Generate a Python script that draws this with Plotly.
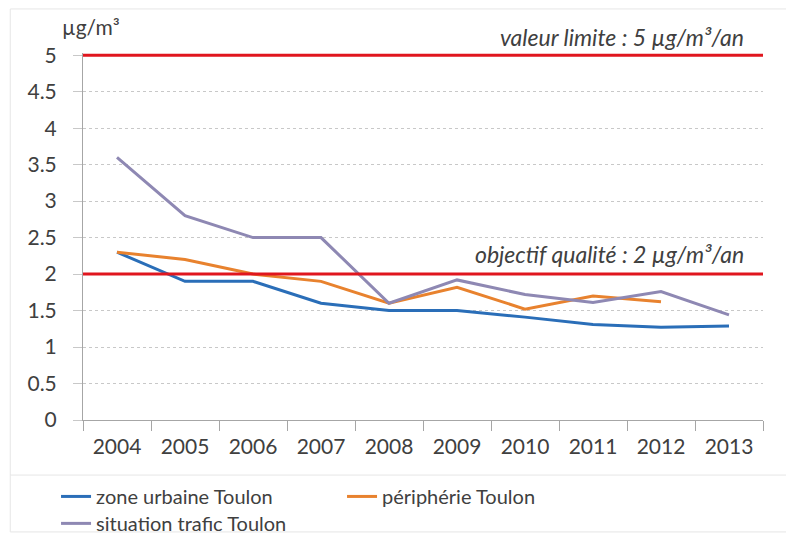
import plotly.graph_objects as go

years = ["2004", "2005", "2006", "2007", "2008", "2009", "2010", "2011", "2012", "2013"]
zone_urbaine = [2.3, 1.9, 1.9, 1.6, 1.5, 1.5, 1.41, 1.31, 1.27, 1.29]
peripherie = [2.3, 2.2, 2.0, 1.9, 1.6, 1.82, 1.52, 1.70, 1.62, None]
trafic = [3.6, 2.8, 2.5, 2.5, 1.6, 1.92, 1.72, 1.61, 1.76, 1.44]

valeur_limite = 5
objectif_qualite = 2

FONT = "Lato"
TXT = "#404040"

fig = go.Figure()
fig.add_trace(go.Scatter(x=years, y=zone_urbaine, name="zone urbaine Toulon", mode="lines",
                         line=dict(color="#2A6EB8", width=3), legend="legend"))
fig.add_trace(go.Scatter(x=years, y=peripherie, name="périphérie Toulon", mode="lines",
                         line=dict(color="#E8822E", width=3), legend="legend"))
fig.add_trace(go.Scatter(x=years, y=trafic, name="situation trafic Toulon", mode="lines",
                         line=dict(color="#8E88B3", width=3), legend="legend2"))

for v in (valeur_limite, objectif_qualite):
    fig.add_shape(type="line", xref="paper", x0=0, x1=1, yref="y", y0=v, y1=v,
                  line=dict(color="#E0161E", width=3), layer="above")

# faint chart frame and legend separator
fig.add_shape(type="rect", xref="paper", yref="paper", x0=-0.107, x1=1.035, y0=-0.305, y1=1.12,
              line=dict(color="#E6E6E6", width=1), layer="below")
fig.add_shape(type="line", xref="paper", yref="paper", x0=-0.107, x1=1.035, y0=-0.15, y1=-0.15,
              line=dict(color="#E6E6E6", width=1), layer="below")

fig.add_annotation(text="valeur limite : 5 µg/m³/an", xref="paper", x=0.975, xanchor="right",
                   yref="y", y=valeur_limite, yanchor="bottom", yshift=2, showarrow=False,
                   font=dict(family=FONT, size=23, color=TXT, style="italic"))
fig.add_annotation(text="objectif qualité : 2 µg/m³/an", xref="paper", x=0.975, xanchor="right",
                   yref="y", y=objectif_qualite, yanchor="bottom", yshift=4, showarrow=False,
                   font=dict(family=FONT, size=23, color=TXT, style="italic"))
fig.add_annotation(text="µg/m³", xref="paper", x=0.012, xanchor="center",
                   yref="paper", y=1.032, yanchor="bottom", showarrow=False,
                   font=dict(family=FONT, size=21, color=TXT))

fig.update_layout(
    width=794, height=539,
    margin=dict(l=75, r=39, t=45, b=127),
    paper_bgcolor="white", plot_bgcolor="white",
    font=dict(family=FONT, color=TXT),
    xaxis=dict(type="category", tickson="boundaries", ticks="outside", ticklen=10,
               tickcolor="#A6A6A6", showline=True, linecolor="#A6A6A6", linewidth=1,
               showgrid=False, tickfont=dict(size=21, color=TXT), range=[-0.5, 9.5],
               ticklabelstandoff=8),
    yaxis=dict(range=[0, 5.03], dtick=0.5, tick0=0, showline=True, linecolor="#A6A6A6",
               linewidth=1, gridcolor="#C8C8C8", griddash="dot", gridwidth=1,
               ticks="outside", ticklen=9, tickcolor="#C8C8C8", ticklabelstandoff=12,
               tickfont=dict(size=21, color=TXT), zeroline=False),
    legend=dict(orientation="h", xref="container", yref="container",
                x=0.0605, xanchor="left", y=0.13, yanchor="top",
                font=dict(family=FONT, size=20, color=TXT),
                entrywidth=241, bgcolor="rgba(0,0,0,0)"),
    legend2=dict(orientation="h", xref="container", yref="container",
                 x=0.0605, xanchor="left", y=0.08, yanchor="top",
                 font=dict(family=FONT, size=20, color=TXT),
                 bgcolor="rgba(0,0,0,0)"),
    showlegend=True,
)

fig.write_html("out.html")
